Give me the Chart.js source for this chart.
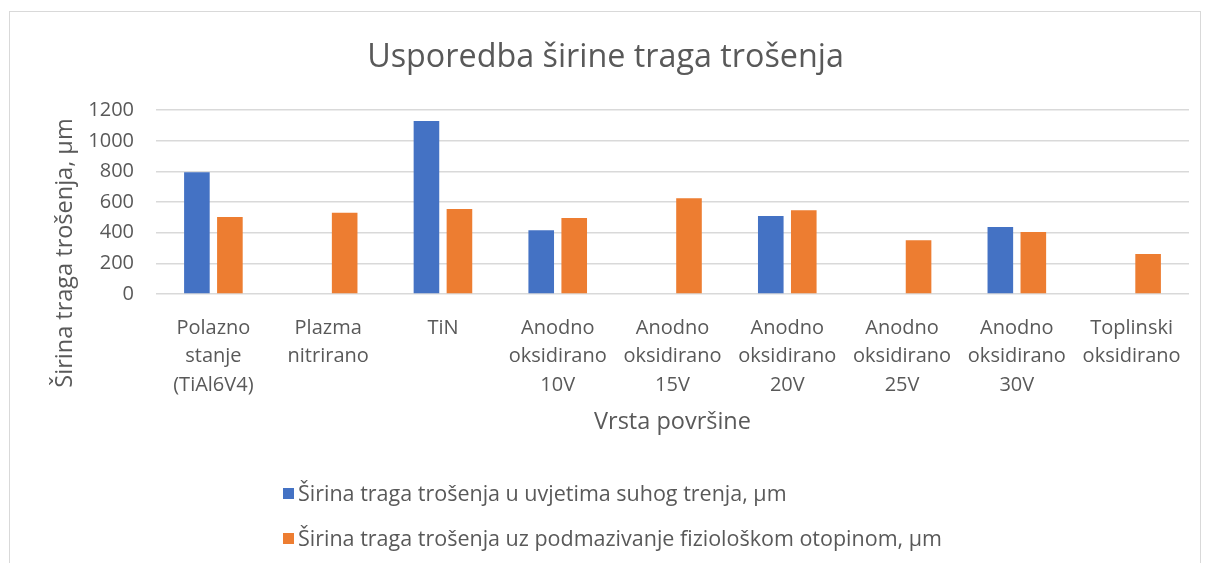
<!DOCTYPE html>
<html>
<head>
<meta charset="utf-8">
<script src="https://cdn.jsdelivr.net/npm/chart.js@4.4.0/dist/chart.umd.min.js"></script>
<style>
  body { margin: 0; background: #fff; font-family: 'Open Sans', sans-serif; }
  #frame { position: absolute; left: 9px; top: 11px; width: 1192px; height: 600px; border: 1px solid #d9d9d9; box-sizing: border-box; }
  #wearChart { position: absolute; left: 0; top: 0; }
  .legend-row { position: absolute; left: 283px; display: flex; align-items: center; color: #595959; font-size: 21.5px; white-space: nowrap; line-height: 1; }
  .swatch { width: 11px; height: 11px; margin-right: 4px; flex: none; }
</style>
</head>
<body>
<div id="frame"></div>
<canvas id="wearChart" width="1207" height="563"></canvas>
<div id="legend"></div>
<script>
const categories = [
    ['Polazno', 'stanje', '(TiAl6V4)'],
    ['Plazma', 'nitrirano'],
    ['TiN'],
    ['Anodno', 'oksidirano', '10V'],
    ['Anodno', 'oksidirano', '15V'],
    ['Anodno', 'oksidirano', '20V'],
    ['Anodno', 'oksidirano', '25V'],
    ['Anodno', 'oksidirano', '30V'],
    ['Toplinski', 'oksidirano']
];
const dryWear = [795, null, 1130, 416, null, 509, null, 438, null];
const lubricatedWear = [503, 531, 555, 496, 625, 547, 351, 405, 261];
const seriesNames = [
    'Širina traga trošenja u uvjetima suhog trenja, µm',
    'Širina traga trošenja uz podmazivanje fiziološkom otopinom, µm'
];
const seriesColors = ['#4472C4', '#ED7D31'];
const yMin = 0;
const yMax = 1200;
const yStep = 200;
const yAxisTitle = 'Širina traga trošenja, µm';
const xAxisTitle = 'Vrsta površine';

const textColor = '#595959';
const gridColor = '#d9d9d9';
const fontFamily = "'Open Sans', sans-serif";
const font = { family: fontFamily, size: 20 };
const axisTitleFont = { family: fontFamily, size: 23.5 };

// the value axis title sits lower than the plot centre, so it is drawn by hand
const yTitlePlugin = {
    id: 'yTitle',
    afterDraw(chart) {
        const c = chart.ctx;
        c.save();
        c.translate(72, 253);
        c.rotate(-Math.PI / 2);
        c.fillStyle = textColor;
        c.font = `${axisTitleFont.size}px ${fontFamily}`;
        c.textAlign = 'center';
        c.textBaseline = 'alphabetic';
        c.fillText(yAxisTitle, 0, 0);
        c.restore();
    }
};

const ctx = document.getElementById('wearChart').getContext('2d');
const wearChart = new Chart(ctx, {
    type: 'bar',
    data: {
        labels: categories,
        datasets: [
            { label: seriesNames[0], data: dryWear, backgroundColor: seriesColors[0] },
            { label: seriesNames[1], data: lubricatedWear, backgroundColor: seriesColors[1] }
        ]
    },
    options: {
        responsive: false,
        animation: false,
        categoryPercentage: 0.575,
        barPercentage: 0.776,
        layout: { padding: { left: 22, right: 18, top: 0, bottom: 123 } },
        scales: {
            y: {
                min: yMin,
                max: yMax,
                ticks: {
                    stepSize: yStep,
                    color: textColor,
                    font: font,
                    padding: 22,
                    callback: value => String(value)
                },
                grid: { color: gridColor, lineWidth: 1.5, drawTicks: false },
                border: { display: false },
                afterFit: scale => { scale.width = 134; }
            },
            x: {
                ticks: {
                    color: textColor,
                    font: { ...font, lineHeight: 1.42 },
                    maxRotation: 0,
                    autoSkip: false,
                    padding: 12
                },
                grid: { display: false },
                border: { display: false },
                title: {
                    display: true,
                    text: xAxisTitle,
                    color: textColor,
                    font: axisTitleFont,
                    padding: { top: 6 }
                },
                afterFit: scale => { scale.height = 146; }
            }
        },
        plugins: {
            legend: { display: false },
            tooltip: { enabled: false },
            title: {
                display: true,
                text: 'Usporedba širine traga trošenja',
                color: textColor,
                font: { family: fontFamily, size: 32.3, weight: 'normal' },
                padding: { top: 38, bottom: 33.4 }
            }
        }
    },
    plugins: [yTitlePlugin]
});

// legend rows stacked under the chart, one per series
const legend = document.getElementById('legend');
const legendRowsY = [493, 538];
wearChart.data.datasets.forEach((ds, i) => {
    const row = document.createElement('div');
    row.className = 'legend-row';
    row.style.top = (legendRowsY[i] - 11) + 'px';
    row.style.height = '22px';
    const swatch = document.createElement('span');
    swatch.className = 'swatch';
    swatch.style.background = ds.backgroundColor;
    const text = document.createElement('span');
    text.textContent = ds.label;
    row.appendChild(swatch);
    row.appendChild(text);
    legend.appendChild(row);
});
</script>
</body>
</html>
